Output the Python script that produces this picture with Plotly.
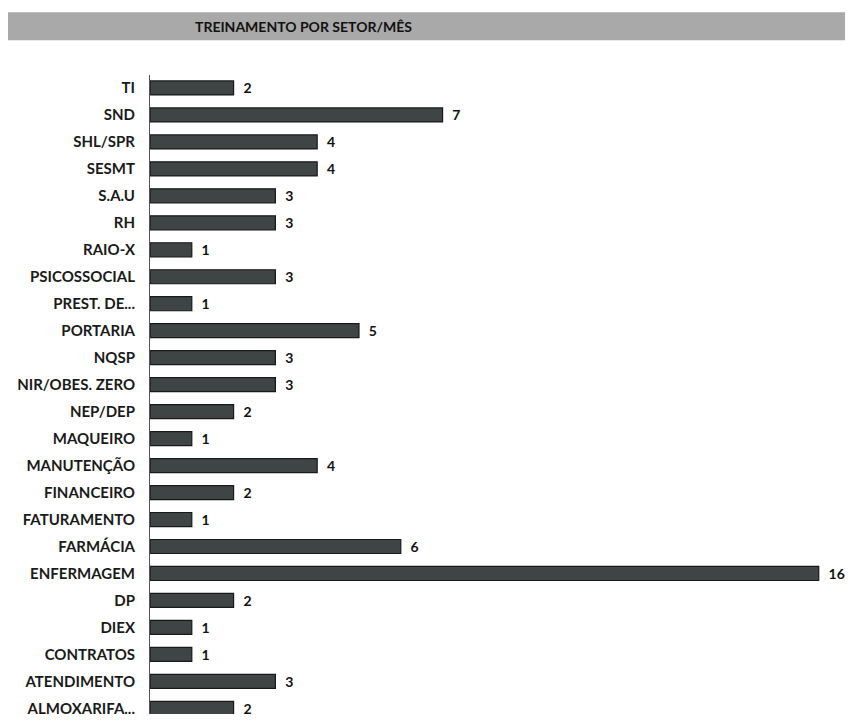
import plotly.graph_objects as go

sectors = ["TI", "SND", "SHL/SPR", "SESMT", "S.A.U", "RH", "RAIO-X", "PSICOSSOCIAL",
           "PREST. DE...", "PORTARIA", "NQSP", "NIR/OBES. ZERO", "NEP/DEP", "MAQUEIRO",
           "MANUTENÇÃO", "FINANCEIRO", "FATURAMENTO", "FARMÁCIA", "ENFERMAGEM", "DP",
           "DIEX", "CONTRATOS", "ATENDIMENTO", "ALMOXARIFA..."]
trainings = [2, 7, 4, 4, 3, 3, 1, 3, 1, 5, 3, 3, 2, 1, 4, 2, 1, 6, 16, 2, 1, 1, 3, 2]

fig = go.Figure()
fig.add_trace(go.Bar(
    x=trainings,
    y=sectors,
    orientation="h",
    marker=dict(color="#3f4444", line=dict(color="#161a1a", width=1.2)),
    texttemplate="  %{x}",
    textposition="outside",
    constraintext="none",
    textfont=dict(family="Lato", size=14, color="#111111", weight="bold"),
    cliponaxis=False,
))

# gray title band
fig.add_shape(type="rect", xref="paper", yref="paper",
              x0=-0.206, x1=1.0, y0=1.0545, y1=1.0981,
              fillcolor="#a9a9a9", line=dict(width=0), layer="below")
fig.add_annotation(text="<b>TREINAMENTO POR SETOR/MÊS</b>", xref="paper", yref="paper",
                   x=0.219, y=1.0763, xanchor="center", yanchor="middle", showarrow=False,
                   font=dict(family="Lato", size=14, color="#111111"))

# page has an 8px body margin, so the figure is sized to fit the window
fig.update_layout(
    width=845, height=709,
    margin=dict(l=142, r=0, t=67, b=0),
    paper_bgcolor="white", plot_bgcolor="white",
    showlegend=False,
    bargap=0.48,
    xaxis=dict(range=[0, 16.82], visible=False),
    yaxis=dict(range=[23.21, -0.48], showline=True, linecolor="#555555", linewidth=1,
               ticks="", ticklabelstandoff=11,
               tickfont=dict(family="Lato", size=15, color="#1a1a1a", weight="bold")),
)

fig.write_html("out.html")
